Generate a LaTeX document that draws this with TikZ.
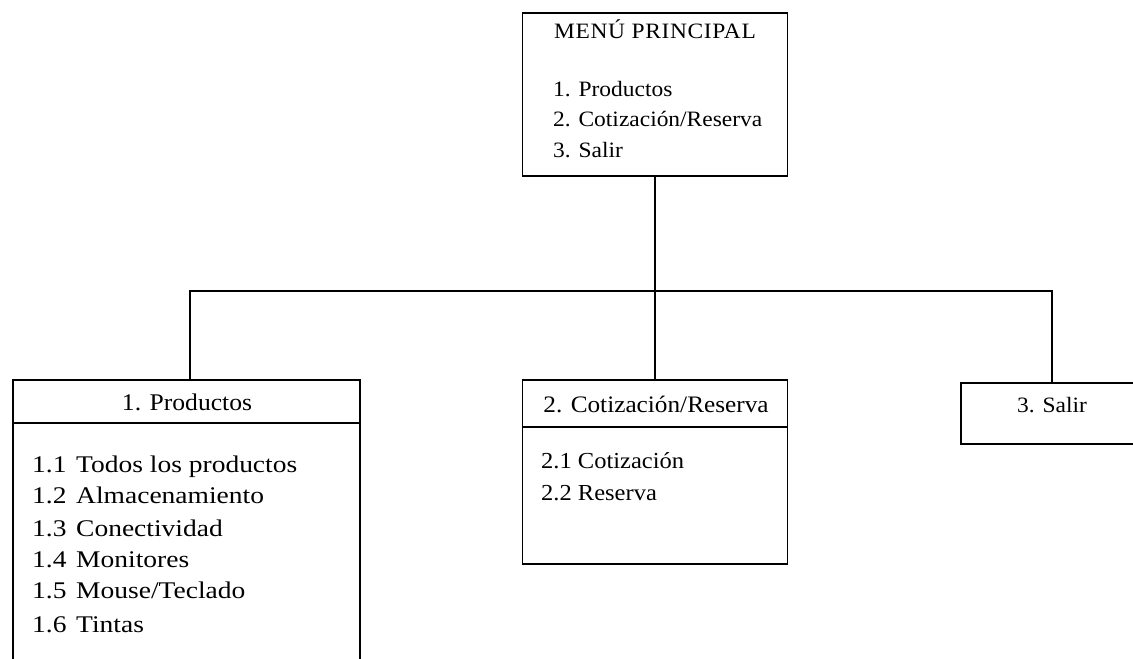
\documentclass[tikz,border=0pt]{standalone}
\usepackage{fontspec}
\setmainfont{Liberation Serif}[FakeStretch=1.07]
\newfontfamily\wideserif{Liberation Serif}[FakeStretch=1.15]
\begin{document}
\begin{tikzpicture}[x=1bp,y=-1bp,
  box/.style={draw, line width=1.7bp, anchor=north west, inner sep=0pt},
  txt/.style={anchor=base west, inner sep=0pt, font=\fontsize{22}{26}\selectfont},
  ctxt/.style={anchor=base, inner sep=0pt, font=\fontsize{22}{26}\selectfont},
  itemtxt/.style={anchor=base west, inner sep=0pt, font=\wideserif\fontsize{24}{28}\selectfont},
  conn/.style={line width=1.7bp}]
\clip (0,0) rectangle (1133,659);
% boxes
\node[box, minimum width=265bp, minimum height=163bp] (main) at (521.5,12) {};
\node[box, minimum width=347bp, minimum height=330bp] (prod) at (12,379) {};
\node[box, minimum width=265bp, minimum height=184bp] (cot) at (521.5,379) {};
\node[box, minimum width=184bp, minimum height=61bp] (salir) at (960,382) {};
% dividers
\coordinate (pd) at (12,423);
\coordinate (cd) at (521.5,427);
\draw[conn] (pd) -- (pd -| prod.east);
\draw[conn] (cd) -- (cd -| cot.east);
% connectors
\coordinate (jp) at (190,291);
\coordinate (js) at (1052,291);
\draw[conn] (main.south) -- (cot.north);
\draw[conn] (jp |- prod.north) -- (jp) -- (js) -- (js |- salir.north);
% main texts
\node[ctxt] (mt) at (655,39) {\addfontfeature{LetterSpace=3}MENÚ PRINCIPAL};
\node[txt] (m1) at (553,97) {1. Productos};
\node[txt] (m2) at (553,127) {2. Cotización/Reserva};
\node[txt] (m3) at (553,158) {3. Salir};
% productos
\node[ctxt, font=\fontsize{24}{28}\selectfont] (pt) at (187,410) {1. Productos};
\node[itemtxt] (p1) at (32,472) {\makebox[44bp][l]{1.1}Todos los productos};
\node[itemtxt] (p2) at (32,503) {\makebox[44bp][l]{1.2}Almacenamiento};
\node[itemtxt] (p3) at (32,536) {\makebox[44bp][l]{1.3}Conectividad};
\node[itemtxt] (p4) at (32,567) {\makebox[44bp][l]{1.4}Monitores};
\node[itemtxt] (p5) at (32,598) {\makebox[44bp][l]{1.5}Mouse/Teclado};
\node[itemtxt] (p6) at (32,632) {\makebox[44bp][l]{1.6}Tintas};
% cotizacion
\node[ctxt, font=\fontsize{23.7}{28}\selectfont] (ct) at (656,412) {2. Cotización/Reserva};
\node[txt, font=\fontsize{23}{28}\selectfont] (c1) at (541,468) {2.1 Cotización};
\node[txt, font=\fontsize{23}{28}\selectfont] (c2) at (541,500) {2.2 Reserva};
% salir
\node[ctxt] (st) at (1052,412) {3. Salir};
\end{tikzpicture}
\end{document}
